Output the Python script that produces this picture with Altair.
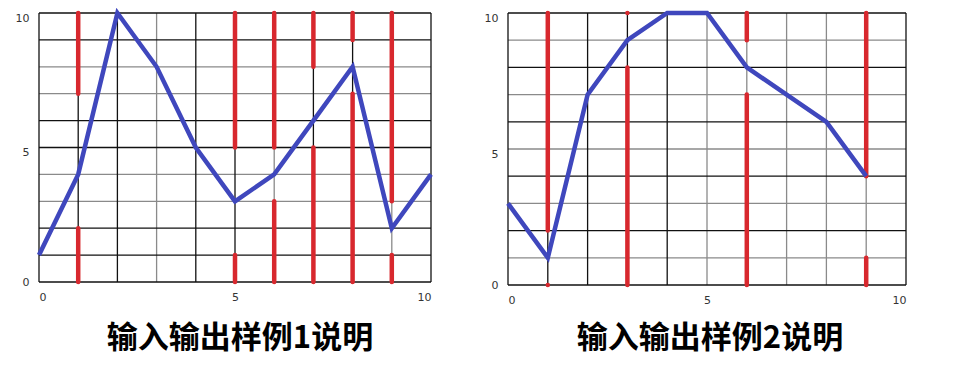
import altair as alt
import pandas as pd

# ---- Example 1 ----
ex1_x = [0, 1, 2, 3, 4, 5, 6, 7, 8, 9, 10]
ex1_y = [1, 4, 10, 8, 5, 3, 4, 6, 8, 2, 4]
ex1_bar_x = [1, 1, 5, 5, 6, 6, 7, 7, 8, 8, 9, 9]
ex1_bar_lo = [7, 0, 5, 0, 5, 0, 8, 0, 9, 0, 3, 0]
ex1_bar_hi = [10, 2, 10, 1, 10, 3, 10, 5, 10, 7, 10, 1]
ex1_vgrid_dark = [0, 1, 2, 4, 5, 7, 8, 10]
ex1_vgrid_light = [3, 6, 9]
ex1_hgrid_dark = [0, 1, 2, 5, 6, 9, 10]
ex1_hgrid_light = [3, 4, 7, 8]

# ---- Example 2 ----
ex2_x = [0, 1, 2, 3, 4, 5, 6, 7, 8, 9]
ex2_y = [3, 1, 7, 9, 10, 10, 8, 7, 6, 4]
ex2_bar_x = [1, 1, 3, 3, 6, 6, 9, 9]
ex2_bar_lo = [2, 0, 10, 0, 9, 0, 4, 0]
ex2_bar_hi = [10, 0, 10, 8, 10, 7, 10, 1]
ex2_vgrid_dark = [0, 1, 2, 3, 4, 10]
ex2_vgrid_light = [5, 6, 7, 8, 9]
ex2_hgrid_dark = [0, 2, 4, 6, 8, 10]
ex2_hgrid_light = [1, 3, 5, 7, 9]

tick_values = [0, 5, 10]
titles = ["输入输出样例1说明", "输入输出样例2说明"]

BLUE = "#3f47bd"
RED = "#d8282e"
DARK = "#111111"
LIGHT = "#8a8a8a"


def panel(xs, ys, bx, blo, bhi, vdark, vlight, hdark, hlight, title,
          w, h, dx, toff):
    xscale = alt.Scale(domain=[0, 10], nice=False, zero=False)
    yscale = alt.Scale(domain=[0, 10], nice=False, zero=False)
    xaxis = alt.Axis(values=tick_values, grid=False, ticks=False, domain=False,
                     labelPadding=9, labelFont="DejaVu Sans", labelFontSize=11,
                     labelColor="#333333", title=None)
    yaxis = alt.Axis(values=tick_values, grid=False, ticks=False, domain=False,
                     labelPadding=10, labelFont="DejaVu Sans", labelFontSize=11,
                     labelColor="#333333", title=None,
                     labelOffset={"condition": {"test": "datum.value == 0", "value": 0},
                                  "value": 5})
    X = lambda f: alt.X(f"{f}:Q", scale=xscale, axis=xaxis)
    Y = lambda f: alt.Y(f"{f}:Q", scale=yscale, axis=yaxis)

    def vrules(vals, color):
        return alt.Chart(pd.DataFrame({"gx": vals})).mark_rule(
            color=color, strokeWidth=1.3).encode(x=X("gx"))

    def hrules(vals, color):
        return alt.Chart(pd.DataFrame({"gy": vals})).mark_rule(
            color=color, strokeWidth=1.3).encode(y=Y("gy"))

    bars = alt.Chart(pd.DataFrame({"bx": bx, "lo": blo, "hi": bhi})).mark_rule(
        color=RED, strokeWidth=4.5, strokeCap="round"
    ).encode(x=X("bx"), y=Y("lo"), y2="hi:Q")

    line = alt.Chart(pd.DataFrame({"px": xs, "py": ys})).mark_line(
        color=BLUE, strokeWidth=4.5
    ).encode(x=X("px"), y=Y("py"))

    return alt.layer(
        vrules(vlight, LIGHT), hrules(hlight, LIGHT),
        vrules(vdark, DARK), hrules(hdark, DARK),
        bars, line,
    ).properties(
        width=w, height=h,
        title=alt.TitleParams(title, orient="bottom", font="Noto Sans CJK SC",
                              fontSize=31, fontWeight="bold", color="#000000",
                              frame="group", anchor="middle", dx=dx, offset=toff),
    )


left = panel(ex1_x, ex1_y, ex1_bar_x, ex1_bar_lo, ex1_bar_hi,
             ex1_vgrid_dark, ex1_vgrid_light, ex1_hgrid_dark, ex1_hgrid_light,
             titles[0], 392, 269, 5, 22)
right = panel(ex2_x, ex2_y, ex2_bar_x, ex2_bar_lo, ex2_bar_hi,
              ex2_vgrid_dark, ex2_vgrid_light, ex2_hgrid_dark, ex2_hgrid_light,
              titles[1], 398, 272, 3, 19)

chart = alt.hconcat(left, right, spacing=77, bounds="flush").configure_view(
    stroke=None
).properties(
    padding={"left": 15, "top": 4, "right": 0, "bottom": 10},
    background="white",
)

chart.save("out.html", embed_options={"renderer": "svg", "actions": False})
